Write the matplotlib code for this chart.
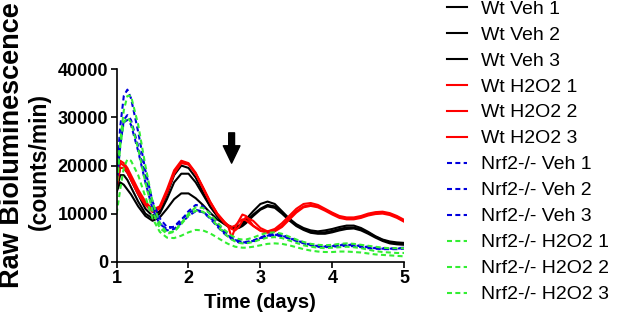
import matplotlib
matplotlib.use("Agg")
import matplotlib.pyplot as plt

# ---- data (values in thousands of counts/min) ----
time_days = [1.0, 1.05, 1.1, 1.15, 1.2, 1.3, 1.4, 1.5, 1.6, 1.7, 1.8, 1.9, 2.0, 2.1, 2.2,
             2.3, 2.4, 2.5, 2.55, 2.6, 2.65, 2.7, 2.75, 2.8, 2.9, 3.0, 3.1, 3.2, 3.3, 3.4,
             3.5, 3.6, 3.7, 3.8, 3.9, 4.0, 4.1, 4.2, 4.3, 4.4, 4.5, 4.6, 4.7, 4.8, 4.9, 5.0]

wt_veh_1 = [16, 19.5, 19.5, 18.5, 17, 14, 11, 9.5, 10.5, 14, 18, 20, 19.5, 17.5, 14.5,
            11.5, 9.5, 8, 7.5, 7.2, 7.2, 7.5, 8, 8.8, 10.5, 12, 12.5, 12, 10.5, 9,
            7.8, 7, 6.5, 6.3, 6.5, 6.8, 7.2, 7.5, 7.5, 7, 6.2, 5.3, 4.6, 4.2, 4, 3.9]
wt_veh_2 = [15, 18, 18, 17, 15.5, 12.5, 10, 9, 10, 13, 16.5, 18.3, 18.3, 16.5, 14,
            11.5, 9.5, 8, 7.5, 7.2, 7, 7.2, 7.7, 8.3, 9.8, 11, 11.8, 11.5, 10.2, 8.8,
            7.6, 6.8, 6.2, 6, 6.1, 6.4, 6.8, 7.1, 7.1, 6.7, 6, 5.2, 4.5, 4, 3.8, 3.7]
wt_veh_3 = [14.5, 16.5, 16, 15, 14, 11.5, 9.5, 8.5, 9.2, 11, 13, 14.2, 14.2, 13.2, 11.8,
            10.2, 8.8, 7.8, 7.3, 7, 6.9, 7, 7.4, 8, 9.5, 10.8, 11.5, 11.2, 10, 8.6,
            7.4, 6.6, 6, 5.8, 5.8, 6.1, 6.5, 6.8, 6.9, 6.5, 5.8, 5, 4.3, 3.8, 3.6, 3.5]

wt_h2o2_1 = [17.5, 21, 20.5, 19.5, 18, 15, 12.5, 10.8, 11.5, 15, 19, 21, 20.5, 18.5, 15.5,
             12.5, 10, 8.3, 7.5, 5, 7, 8.5, 9.8, 9.5, 7.5, 6.5, 6.3, 6.8, 8, 9.5,
             11, 12, 12.2, 11.8, 11, 10.2, 9.5, 9.2, 9.2, 9.5, 10, 10.3, 10.4, 10.1, 9.5, 8.7]
wt_h2o2_2 = [16.5, 20.5, 20, 19, 17.5, 14.5, 12, 10.5, 11.2, 14.5, 18.5, 20.7, 20.3, 18.3, 15.3,
             12.3, 9.8, 8, 7.3, 6.8, 6.5, 7.2, 8.5, 9.2, 8.5, 7, 6.3, 6.5, 7.5, 9,
             10.5, 11.5, 11.8, 11.5, 10.8, 10, 9.3, 9, 9, 9.3, 9.8, 10.1, 10.2, 9.9, 9.3, 8.5]
wt_h2o2_3 = [15.5, 19.5, 19.5, 18.5, 17, 14, 11.8, 10.3, 11, 14.3, 18.3, 20.5, 20.2, 18.3, 15.5,
             12.5, 10, 8.2, 7.6, 7.2, 7.5, 8.3, 8.8, 8.6, 7.4, 6.4, 6, 6.3, 7.2, 8.7,
             10.2, 11.3, 11.6, 11.3, 10.6, 9.8, 9.1, 8.8, 8.8, 9.1, 9.6, 9.9, 10, 9.7, 9.1, 8.3]

ko_veh_1 = [18, 28, 34.5, 35.8, 34, 27, 19, 12.5, 9, 7.2, 7.2, 8.5, 10.5, 11.8, 11.5,
            10, 8, 6.3, 5.7, 5, 4.6, 4.3, 4.1, 4.1, 4.4, 5, 5.6, 5.8, 5.6, 5,
            4.5, 4, 3.6, 3.3, 3.2, 3.3, 3.5, 3.6, 3.5, 3.3, 3.1, 2.9, 2.8, 2.7, 2.8, 2.9]
ko_veh_2 = [16, 24, 29.5, 30.5, 29.5, 24, 17.5, 11.5, 8, 6.5, 6.8, 8, 9.5, 10.5, 10.3,
            9, 7.3, 5.8, 5.2, 4.7, 4.3, 4, 3.9, 3.9, 4.2, 4.8, 5.3, 5.5, 5.3, 4.8,
            4.3, 3.8, 3.4, 3.1, 3, 3.1, 3.2, 3.3, 3.2, 3, 2.8, 2.7, 2.6, 2.6, 2.6, 2.7]
ko_veh_3 = [17, 25, 29, 29.5, 28.5, 23, 16.5, 11, 7.8, 6.8, 7.3, 8.8, 10.2, 10.8, 10.4,
            9.2, 7.6, 6, 5.4, 4.9, 4.5, 4.2, 4, 4, 4.3, 4.9, 5.4, 5.6, 5.4, 4.9,
            4.4, 3.9, 3.5, 3.2, 3.1, 3.2, 3.4, 3.5, 3.4, 3.2, 3, 2.8, 2.7, 2.7, 2.7, 2.8]

ko_h2o2_1 = [17, 25, 31.5, 34.5, 34.5, 28.5, 20, 12.5, 8, 6, 6.3, 8, 10, 11.3, 11.2,
             10, 8.2, 6.6, 6, 5.4, 5, 4.7, 4.6, 4.6, 5, 5.6, 6, 6.1, 5.8, 5.2,
             4.6, 4.1, 3.7, 3.5, 3.4, 3.5, 3.7, 3.8, 3.7, 3.5, 3.3, 3.1, 2.9, 2.8, 2.8, 2.8]
ko_h2o2_2 = [15, 24, 29, 30, 29, 23.5, 16.5, 10.5, 7, 5.8, 6.2, 7.8, 9.6, 10.6, 10.4,
             9.2, 7.5, 5.9, 5.2, 4.6, 4.2, 3.9, 3.8, 3.8, 4.1, 4.6, 5, 5.1, 4.9, 4.4,
             3.9, 3.4, 3.1, 2.9, 2.8, 2.9, 3, 3.1, 3, 2.8, 2.5, 2.2, 2, 1.9, 1.8, 1.8]
ko_h2o2_3 = [10, 15, 19.5, 21.3, 21, 18, 13.5, 9, 6.2, 5, 4.9, 5.4, 6.1, 6.6, 6.5,
             5.9, 5, 4.1, 3.7, 3.4, 3.1, 3, 2.9, 2.9, 3.1, 3.4, 3.7, 3.8, 3.7, 3.4,
             3, 2.6, 2.3, 2.1, 2, 2, 2.1, 2.1, 2, 1.9, 1.7, 1.5, 1.4, 1.3, 1.2, 1.1]

series_labels = ["Wt Veh 1", "Wt Veh 2", "Wt Veh 3",
                 "Wt H2O2 1", "Wt H2O2 2", "Wt H2O2 3",
                 "Nrf2-/- Veh 1", "Nrf2-/- Veh 2", "Nrf2-/- Veh 3",
                 "Nrf2-/- H2O2 1", "Nrf2-/- H2O2 2", "Nrf2-/- H2O2 3"]
series_values = [wt_veh_1, wt_veh_2, wt_veh_3, wt_h2o2_1, wt_h2o2_2, wt_h2o2_3,
                 ko_veh_1, ko_veh_2, ko_veh_3, ko_h2o2_1, ko_h2o2_2, ko_h2o2_3]
group_colors = ["#000000"] * 3 + ["#ff0000"] * 3 + ["#0000dd"] * 3 + ["#33ee33"] * 3
group_dashed = [False] * 6 + [True] * 6

x_ticks = [1, 2, 3, 4, 5]
y_ticks = [0, 10000, 20000, 30000, 40000]
arrow_x = 2.6
arrow_y_tip = 20500
arrow_y_tail = 26800

# ---- figure ----
plt.rcParams['font.family'] = ['Liberation Sans', 'DejaVu Sans']
W, H = 617, 323
fig = plt.figure(figsize=(W / 100, H / 100), dpi=100)
ax = fig.add_axes([0.189, 0.19, 0.466, 0.595])

handles = []
for lab, vals, col, dashed in zip(series_labels, series_values, group_colors, group_dashed):
    yv = [v * 1000 for v in vals]
    if dashed:
        ln, = ax.plot(time_days, yv, color=col, lw=1.5, dashes=(2.4, 1.6), label=lab)
    else:
        ln, = ax.plot(time_days, yv, color=col, lw=1.5, label=lab)
    handles.append(ln)

ax.annotate('', xy=(arrow_x, arrow_y_tip), xytext=(arrow_x, arrow_y_tail),
            arrowprops=dict(facecolor='black', edgecolor='black', width=4.2,
                            headwidth=12, headlength=12.5, shrink=0))

ax.set_xlim(1, 5)
ax.set_ylim(0, 40000)
ax.set_xticks(x_ticks)
ax.set_yticks(y_ticks)
ax.set_xticklabels([str(t) for t in x_ticks], fontweight='bold', fontsize=13)
ax.set_yticklabels([str(t) for t in y_ticks], fontweight='bold', fontsize=13)
for s in ['top', 'right']:
    ax.spines[s].set_visible(False)
for s in ['left', 'bottom']:
    ax.spines[s].set_linewidth(1.2)
ax.tick_params(direction='out', length=4, width=1.2, pad=2)

ax.set_xlabel("Time (days)", fontweight='bold', fontsize=14.5, labelpad=4)

# y label as two lines of different sizes (as in the reference)
fig.text(12 / W, 1 - 145 / H, "Raw Bioluminescence", rotation=90, fontweight='bold',
         fontsize=19.5, ha='center', va='center')
fig.text(39 / W, 1 - 161 / H, "(counts/min)", rotation=90, fontweight='bold',
         fontsize=16.5, ha='center', va='center')

fig.legend(handles, series_labels, loc='upper left', bbox_to_anchor=(0.724, 1.0),
           bbox_transform=fig.transFigure, frameon=False, fontsize=14,
           handlelength=1.05, handletextpad=0.7, labelspacing=0.43, borderpad=0,
           borderaxespad=0)

fig.savefig("out.png", dpi=100)
